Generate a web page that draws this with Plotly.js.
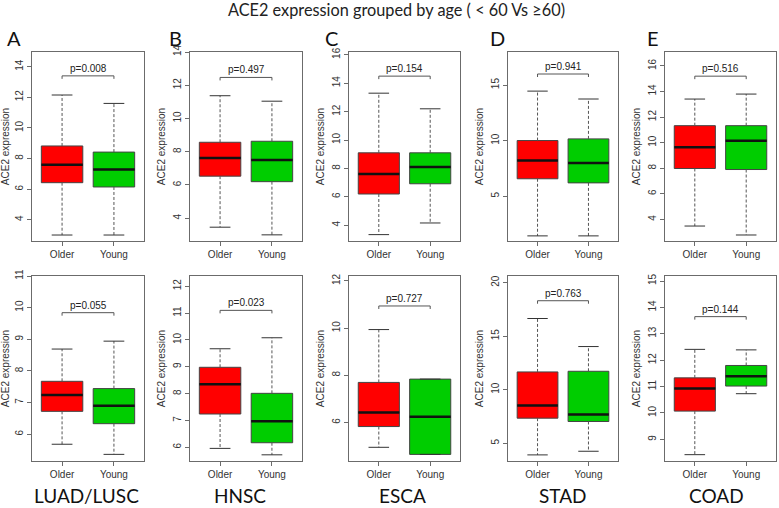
<!DOCTYPE html>
<html>
<head>
<meta charset="utf-8">
<script src="https://cdn.plot.ly/plotly-3.0.1.min.js"></script>
<style>html,body{margin:0;padding:0;background:#fff;}#chart{width:779px;height:508px;}</style>
</head>
<body>
<div id="chart"></div>
<script>
// ---- data ----
const cancers = ['LUAD/LUSC', 'HNSC', 'ESCA', 'STAD', 'COAD'];
const panelLetters = ['A', 'B', 'C', 'D', 'E'];
const groups = ['Older', 'Young'];
const groupColors = ['#FF0000', '#00CD00'];

// top row: [Older, Young] per cancer
const topLow    = [[3.0, 3.0], [3.46, 3.0], [3.34, 4.16], [1.43, 1.43], [3.48, 2.78]];
const topQ1     = [[6.42, 6.14], [6.53, 6.2], [6.2, 6.92], [6.57, 6.2], [7.98, 7.9]];
const topMedian = [[7.6, 7.29], [7.63, 7.51], [7.61, 8.1], [8.22, 7.98], [9.65, 10.14]];
const topQ3     = [[8.82, 8.42], [8.57, 8.63], [9.1, 9.1], [10.01, 10.16], [11.33, 11.33]];
const topHigh   = [[12.15, 11.6], [11.37, 11.04], [13.3, 12.2], [14.46, 13.75], [13.41, 13.8]];
const topP      = ['p=0.008', 'p=0.497', 'p=0.154', 'p=0.941', 'p=0.516'];

// bottom row
const botLow    = [[5.68, 5.36], [5.96, 5.72], [4.95, 4.65], [3.91, 4.25], [8.42, 10.73]];
const botQ1     = [[6.72, 6.33], [7.24, 6.17], [5.83, 4.65], [7.34, 7.03], [10.07, 11.02]];
const botMedian = [[7.24, 6.9], [8.35, 6.97], [6.43, 6.24], [8.53, 7.69], [10.93, 11.39]];
const botQ3     = [[7.67, 7.44], [8.98, 8.01], [7.7, 7.84], [11.66, 11.72], [11.33, 11.8]];
const botHigh   = [[8.69, 8.94], [9.67, 10.08], [9.94, 7.84], [16.65, 14.03], [12.41, 12.39]];
const botP      = ['p=0.055', 'p=0.023', 'p=0.727', 'p=0.763', 'p=0.144'];

const yLabel = 'ACE2 expression';
const mainTitle = 'ACE2 expression grouped by age ( < 60 Vs ≥60)';

// ---- layout geometry (pixels) ----
const W = 779, H = 508;
const colPx = [[32, 144], [190, 302], [349, 460], [508, 618], [665, 776]];
const rowPx = [[52, 241], [276, 461]];
const yRanges = [
  [[2.61, 14.96], [2.63, 14.0], [2.89, 16.2], [0.97, 17.98], [2.31, 17.09]],
  [[5.15, 11.0], [5.49, 12.38], [4.37, 12.21], [3.34, 20.62], [8.18, 15.19]]
];
const yDticks = [[2, 2, 2, 5, 2], [1, 1, 2, 5, 1]];
const bracketY = [[13.4, 12.47, 14.5, 16.0, 15.2], [9.84, 11.1, 10.94, 18.31, 13.65]];

const rows = [
  {low: topLow, q1: topQ1, med: topMedian, q3: topQ3, high: topHigh, p: topP},
  {low: botLow, q1: botQ1, med: botMedian, q3: botQ3, high: botHigh, p: botP}
];

const rFont = 'Liberation Sans';
const headFont = 'Lato';

const traces = [];
const annotations = [];
const layout = {
  width: W, height: H,
  margin: {l: 0, r: 0, t: 0, b: 0},
  paper_bgcolor: '#fff', plot_bgcolor: '#fff',
  showlegend: false,
  font: {family: rFont, color: '#333'},
  title: {
    text: mainTitle,
    font: {family: headFont, size: 16.3, color: '#222'},
    x: 396.5 / W, xanchor: 'center', y: 1 - 10 / H, yanchor: 'middle'
  },
  annotations: annotations
};

const frameColor = '#6b6b6b';

rows.forEach((row, r) => {
  for (let c = 0; c < 5; c++) {
    const k = r * 5 + c + 1;
    const xa = 'x' + (k === 1 ? '' : k), ya = 'y' + (k === 1 ? '' : k);
    const xKey = 'xaxis' + (k === 1 ? '' : k), yKey = 'yaxis' + (k === 1 ? '' : k);
    const rng = yRanges[r][c];
    const span = rng[1] - rng[0];
    const pxPerUnit = (rowPx[r][1] - rowPx[r][0]) / span;

    layout[xKey] = {
      domain: [colPx[c][0] / W, colPx[c][1] / W],
      anchor: ya, range: [0.42, 2.58],
      tickvals: [1, 2], ticktext: groups,
      showline: true, mirror: true, linecolor: frameColor, linewidth: 1,
      ticks: 'outside', ticklen: 4, tickcolor: frameColor,
      tickfont: {family: rFont, size: 10, color: '#333'},
      showgrid: false, zeroline: false, fixedrange: true
    };
    layout[yKey] = {
      domain: [1 - rowPx[r][1] / H, 1 - rowPx[r][0] / H],
      anchor: xa, range: rng,
      tick0: 0, dtick: yDticks[r][c],
      tickangle: -90,
      showline: true, mirror: true, linecolor: frameColor, linewidth: 1,
      ticks: 'outside', ticklen: 4, tickcolor: frameColor,
      tickfont: {family: rFont, size: 10, color: '#333'},
      title: {text: yLabel, font: {family: rFont, size: 10, color: '#333'}, standoff: 4},
      showgrid: false, zeroline: false, fixedrange: true
    };

    const wx = [], wy = [], cx = [], cy = [], mx = [], my = [];
    for (let g = 0; g < 2; g++) {
      const pos = g + 1;
      wx.push(pos, pos, null, pos, pos, null);
      wy.push(row.q3[c][g], row.high[c][g], null, row.q1[c][g], row.low[c][g], null);
      cx.push(pos - 0.2, pos + 0.2, null, pos - 0.2, pos + 0.2, null);
      cy.push(row.high[c][g], row.high[c][g], null, row.low[c][g], row.low[c][g], null);
      mx.push(pos - 0.4, pos + 0.4, null);
      my.push(row.med[c][g], row.med[c][g], null);
    }
    traces.push({type: 'scatter', mode: 'lines', xaxis: xa, yaxis: ya, x: wx, y: wy,
      line: {color: '#555', width: 1, dash: '3px,2px'}, hoverinfo: 'skip'});
    traces.push({type: 'scatter', mode: 'lines', xaxis: xa, yaxis: ya, x: cx, y: cy,
      line: {color: '#333', width: 1}, hoverinfo: 'skip'});

    for (let g = 0; g < 2; g++) {
      traces.push({
        type: 'box', xaxis: xa, yaxis: ya, name: groups[g],
        x: [g + 1],
        q1: [row.q1[c][g]], median: [row.med[c][g]], q3: [row.q3[c][g]],
        lowerfence: [row.q1[c][g]], upperfence: [row.q3[c][g]],
        width: 0.8, whiskerwidth: 0, boxpoints: false,
        fillcolor: groupColors[g], line: {color: '#444', width: 1},
        hoverinfo: 'skip'
      });
    }
    traces.push({type: 'scatter', mode: 'lines', xaxis: xa, yaxis: ya, x: mx, y: my,
      line: {color: '#111', width: 2.5}, hoverinfo: 'skip'});

    const b = bracketY[r][c];
    const drop = 3 / pxPerUnit;
    traces.push({type: 'scatter', mode: 'lines', xaxis: xa, yaxis: ya,
      x: [1, 1, 2, 2], y: [b - drop, b, b, b - drop],
      line: {color: '#555', width: 1}, hoverinfo: 'skip'});
    annotations.push({xref: xa, yref: ya, x: 1.5, y: b, text: row.p[c],
      showarrow: false, xanchor: 'center', yanchor: 'bottom', yshift: 0,
      font: {family: rFont, size: 10, color: '#222'}});
  }
});

const letterX = [5, 167, 323, 488, 645];
panelLetters.forEach((L, i) => {
  annotations.push({xref: 'paper', yref: 'paper', x: letterX[i] / W, y: 1 - 38 / H,
    text: L, showarrow: false, xanchor: 'left', yanchor: 'middle',
    font: {family: headFont, size: 20, color: '#111'}});
});
const labelX = [86, 240, 402, 563, 716];
cancers.forEach((name, i) => {
  annotations.push({xref: 'paper', yref: 'paper', x: labelX[i] / W, y: 0,
    text: name, showarrow: false, xanchor: 'center', yanchor: 'bottom', borderpad: 0,
    font: {family: headFont, size: 19, color: '#111'}});
});

Plotly.newPlot('chart', traces, layout, {displayModeBar: false, staticPlot: true});
</script>
</body>
</html>
